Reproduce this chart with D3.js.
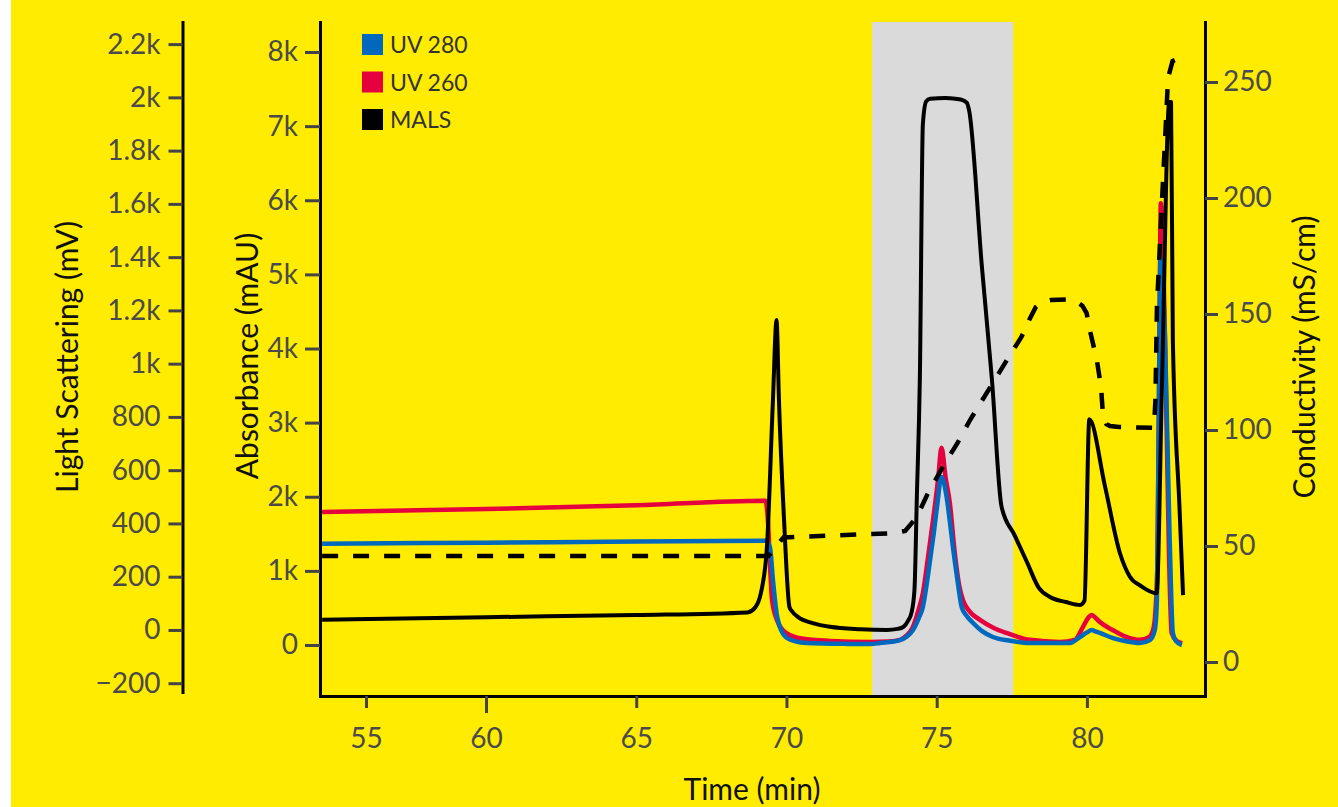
<!DOCTYPE html>
<html lang="en">
<head>
<meta charset="UTF-8">
<title>SEC-MALS chromatogram</title>
<style>
  html, body { margin: 0; padding: 0; background: #fff; }
  svg { display: block; font-family: Lato, "Open Sans", sans-serif; }
  .tick text { fill: #4a4a4a; }
  .title { font-size: 30px; fill: #111; }
</style>
</head>
<body>
<svg id="chart" width="1338" height="807"></svg>
<script src="https://d3js.org/d3.v7.min.js"></script>
<script>
// axis breakpoints (the time axis is drawn compressed between 55 and 60 min)
const timeDomain = [53.04, 55, 60, 83.93];
const timeTicks = [55, 60, 65, 70, 75, 80];
const absDomain = [-688, 8405];
const absTicks = [0, 1000, 2000, 3000, 4000, 5000, 6000, 7000, 8000];
const lsDomain = [-233, 2283];
const lsTicks = [-200, 0, 200, 400, 600, 800, 1000, 1200, 1400, 1600, 1800, 2000, 2200];
const condDomain = [-14.66, 275.86];
const condTicks = [0, 50, 100, 150, 200, 250];
const highlight = [72.85, 77.55];

const legendLabels = ["UV 280", "UV 260", "MALS"];
const legendColors = ["#0068bd", "#e5003e", "#000000"];

// [time (min), absorbance (mAU)]
const uv260 = [
  [53.13,1795],[60,1835],[65,1885],[69.3,1945],[69.38,1700],[69.45,1100],[69.52,610],[69.68,340],
  [69.88,200],[70.2,120],[70.45,90],[71.45,55],[72.8,42],[73.4,48],[73.78,70],[74.0,130],[74.21,245],
  [74.4,480],[74.54,700],[74.7,1150],[74.88,1690],[75.05,2250],[75.16,2660],[75.3,2250],[75.44,1910],
  [75.6,1250],[75.75,800],[75.87,610],[76.1,450],[76.44,340],[76.9,230],[77.34,160],[78.1,70],
  [79.1,42],[79.6,70],[79.87,245],[80.05,370],[80.16,405],[80.3,360],[80.43,310],[80.87,200],
  [81.3,110],[81.76,70],[82.05,100],[82.2,200],[82.28,450],[82.35,1200],[82.41,4000],[82.46,5960],
  [82.6,4115],[82.73,1240],[82.82,160],[82.99,55],[83.17,25]
];
const uv280 = [
  [53.13,1367],[60,1380],[65,1395],[69.32,1407],[69.45,1320],[69.55,877],[69.68,405],[69.78,243],
  [70.02,94],[70.3,50],[70.68,27],[72.0,15],[72.78,13],[73.11,27],[73.78,67],[74.0,110],[74.21,202],
  [74.4,360],[74.54,513],[74.66,800],[74.78,1147],[74.9,1500],[75.01,1862],[75.16,2267],[75.33,1997],
  [75.44,1660],[75.54,1322],[75.7,850],[75.83,513],[76.0,390],[76.21,297],[76.5,190],[76.87,108],
  [77.4,60],[78.1,27],[79.43,27],[79.77,108],[80.0,170],[80.16,202],[80.3,180],[80.43,162],[80.87,94],
  [81.3,50],[81.76,27],[82.1,67],[82.26,202],[82.33,607],[82.38,2500],[82.45,5207],[82.6,4115],
  [82.75,1500],[82.86,162],[82.96,54],[83.16,0]
];
// [time (min), light scattering (mV)]
const mals = [
  [53.13,38],[60,48],[65,56],[68.7,66],[68.95,83],[69.15,139],[69.35,312],[69.55,863],[69.67,1164],
  [69.75,863],[69.92,413],[70.1,86],[70.2,68],[70.38,49],[70.9,25],[71.45,12],[72.45,3],[73.34,0],
  [73.7,4],[73.89,11],[74.05,35],[74.16,64],[74.26,150],[74.34,500],[74.44,950],[74.54,1900],
  [74.65,1985],[74.78,1995],[75.3,1998],[75.8,1992],[76.0,1980],[76.08,1950],[76.5,1370],[76.84,938],
  [77.16,462],[77.6,354],[78.0,256],[78.4,158],[78.77,124],[79.3,105],[79.78,94],[79.92,110],
  [80.08,791],[80.6,540],[81.1,288],[81.43,200],[81.8,165],[82.32,138],[82.5,930],[82.74,1983],
  [82.8,1983],[82.86,1089],[83.08,463],[83.2,131]
];
// [time (min), conductivity (mS/cm)]
const cond = [
  [53.13,45.7],[69.4,45.7],[69.9,53.7],[73.5,55.5],[73.95,56.5],[74.34,62.5],[74.68,72],[75.2,84],
  [75.71,94.8],[76.11,104.3],[76.87,120.3],[77.4,131.5],[77.82,140.1],[78.1,148],[78.3,153],
  [78.5,155.2],[78.8,156],[79.3,156.2],[79.6,155.8],[79.85,153.5],[79.99,150.4],[80.12,141.8],
  [80.33,130.2],[80.47,118.5],[80.53,107.3],[80.65,102.5],[80.77,101.7],[81.07,101.3],[82.23,100.9],
  [82.28,112.9],[82.33,153],[82.5,199],[82.6,225],[82.7,251.7],[82.85,259],[83.2,261]
];

const svg = d3.select("#chart");
const plotLeft = 320, plotRight = 1205, plotTop = 22, plotBottom = 696, lsAxisX = 182.5;

svg.append("rect").attr("x", 11).attr("y", 0).attr("width", 1327).attr("height", 807).attr("fill", "#ffec00");

const x = d3.scaleLinear().domain(timeDomain).range([plotLeft, 366, 486, plotRight]);
const yAbs = d3.scaleLinear().domain(absDomain).range([plotBottom, plotTop]);
const yLs = d3.scaleLinear().domain(lsDomain).range([692, plotTop]);
const yCond = d3.scaleLinear().domain(condDomain).range([plotBottom, plotTop]);

svg.append("rect")
  .attr("x", x(highlight[0])).attr("y", plotTop)
  .attr("width", x(highlight[1]) - x(highlight[0])).attr("height", plotBottom - plotTop)
  .attr("fill", "#dadada");

const kfmt = v => v < 0 ? "\u2212" + Math.abs(v) : (v >= 1000 ? (v / 1000) + "k" : String(v));

function styleAxis(g, size) {
  g.attr("font-family", null).attr("font-size", size);
  g.select(".domain").attr("stroke", "#000").attr("stroke-width", 3).attr("stroke-linecap", "square");
  g.selectAll(".tick line").attr("stroke", "#444").attr("stroke-width", 3);
}

svg.append("g")
  .attr("transform", `translate(${lsAxisX},0)`)
  .call(d3.axisLeft(yLs).tickValues(lsTicks).tickFormat(kfmt).tickSize(14).tickPadding(8).tickSizeOuter(0))
  .call(g => styleAxis(g, 28));

svg.append("g")
  .attr("transform", `translate(${plotLeft},0)`)
  .call(d3.axisLeft(yAbs).tickValues(absTicks).tickFormat(kfmt).tickSize(15).tickPadding(7).tickSizeOuter(0))
  .call(g => styleAxis(g, 28));

svg.append("g")
  .attr("transform", `translate(${plotRight},0)`)
  .call(d3.axisRight(yCond).tickValues(condTicks).tickSize(13).tickPadding(5).tickSizeOuter(0))
  .call(g => styleAxis(g, 28));

svg.append("g")
  .attr("transform", `translate(0,${plotBottom})`)
  .call(d3.axisBottom(x).tickValues(timeTicks).tickSize(12).tickPadding(20).tickSizeOuter(0))
  .call(g => styleAxis(g, 28))
  .call(g => g.selectAll(".tick").filter(d => d === 60).select("line").attr("y2", 17));

const lineAbs = d3.line().x(d => x(d[0])).y(d => yAbs(d[1])).curve(d3.curveMonotoneX);
const lineLs = d3.line().x(d => x(d[0])).y(d => yLs(d[1])).curve(d3.curveMonotoneX);
const lineCond = d3.line().x(d => x(d[0])).y(d => yCond(d[1]));

svg.append("path").datum(uv260).attr("d", lineAbs)
  .attr("fill", "none").attr("stroke", legendColors[1]).attr("stroke-width", 4.5).attr("stroke-linejoin", "round");
svg.append("path").datum(uv280).attr("d", lineAbs)
  .attr("fill", "none").attr("stroke", legendColors[0]).attr("stroke-width", 4.5).attr("stroke-linejoin", "round");
svg.append("path").datum(mals).attr("d", lineLs)
  .attr("fill", "none").attr("stroke", legendColors[2]).attr("stroke-width", 4).attr("stroke-linejoin", "round");
svg.append("path").datum(cond).attr("d", lineCond)
  .attr("fill", "none").attr("stroke", "#000").attr("stroke-width", 4.5).attr("stroke-dasharray", "16,15");

// legend
const legend = svg.append("g").attr("transform", "translate(362,34)");
legendLabels.forEach((label, i) => {
  const row = legend.append("g").attr("transform", `translate(0,${i * 37.5})`);
  row.append("rect").attr("width", 21).attr("height", 21).attr("fill", legendColors[i]);
  row.append("text").attr("x", 28).attr("y", 11).attr("dy", "0.35em")
    .attr("font-size", 23).attr("fill", "#333").text(label);
});

// axis titles
svg.append("text").attr("class", "title")
  .attr("transform", "translate(67,357) rotate(-90)").attr("text-anchor", "middle").attr("dy", "0.35em")
  .text("Light Scattering (mV)");
svg.append("text").attr("class", "title")
  .attr("transform", "translate(247,356) rotate(-90)").attr("text-anchor", "middle").attr("dy", "0.35em")
  .text("Absorbance (mAU)");
svg.append("text").attr("class", "title")
  .attr("transform", "translate(1304,357) rotate(-90)").attr("text-anchor", "middle").attr("dy", "0.35em")
  .text("Conductivity (mS/cm)");
svg.append("text").attr("class", "title")
  .attr("x", 752).attr("y", 800).attr("text-anchor", "middle")
  .text("Time (min)");
</script>
</body>
</html>
